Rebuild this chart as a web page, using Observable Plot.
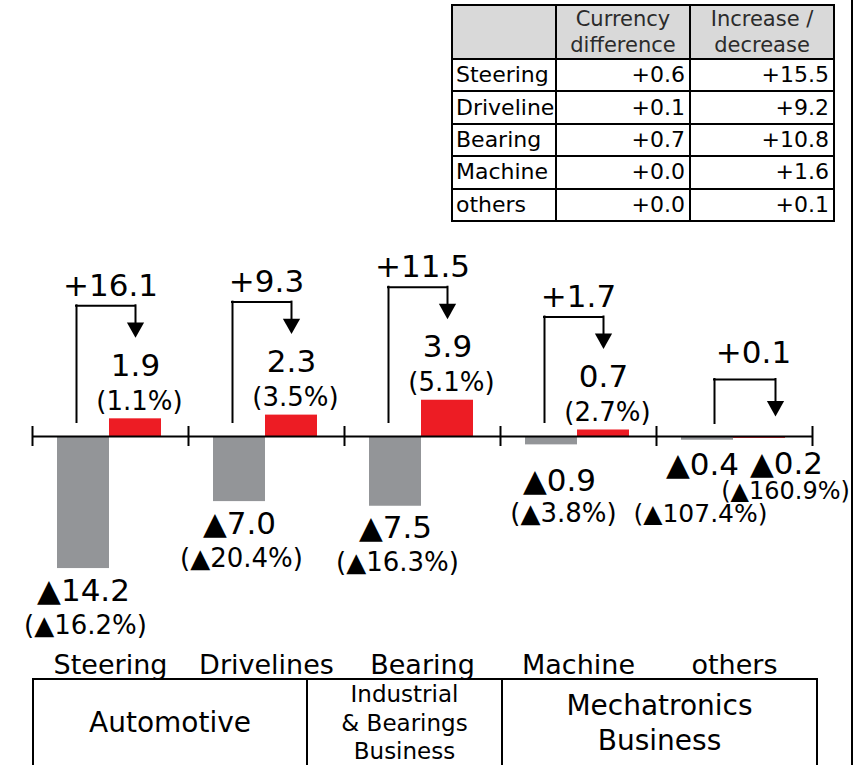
<!DOCTYPE html>
<html>
<head>
<meta charset="utf-8">
<script src="https://cdn.jsdelivr.net/npm/d3@7"></script>
<script src="https://cdn.jsdelivr.net/npm/@observablehq/plot@0.6"></script>
<style>
  html, body { margin: 0; padding: 0; background: #fff; }
  #wrap { position: relative; width: 860px; height: 765px; overflow: hidden; font-family: "DejaVu Sans", Verdana, sans-serif; color: #000; }
  #chart { position: absolute; left: 0; top: 0; }
  #tbl { position: absolute; left: 451px; top: 4px; border-collapse: collapse; table-layout: fixed; width: 382px; font-size: 22px; z-index: 2; background: #fff; }
  #tbl th, #tbl td { border: 2px solid #000; padding: 0; overflow: hidden; white-space: nowrap; }
  #tbl th { background: #d9d9d9; font-weight: normal; font-size: 21px; color: #2b2b2b; line-height: 26px; text-align: center; }
  #tbl thead tr { height: 52px; }
  #tbl tbody tr { height: 32.4px; }
  #tbl td { line-height: 24px; }
  #tbl td.name { text-align: left; padding-left: 3px; }
  #tbl td.num { text-align: right; padding-right: 4px; }
  #seg { position: absolute; left: 32px; top: 678px; border-collapse: collapse; table-layout: fixed; width: 786px; height: 86px; }
  #seg td { border: 2px solid #000; padding: 0; text-align: center; vertical-align: middle; }
  #border { position: absolute; left: 851px; top: 0; width: 2px; height: 765px; background: #000; }
</style>
</head>
<body>
<div id="wrap">
  <div id="chart"></div>
  <table id="tbl"></table>
  <table id="seg"></table>
  <div id="border"></div>
</div>
<script>
// ---- data ----
const categories = ["Steering", "Drivelines", "Bearing", "Machine", "others"];
const prevValues = [-14.2, -7.0, -7.5, -0.9, -0.4];
const prevPct = [-16.2, -20.4, -16.3, -3.8, -107.4];
const currValues = [1.9, 2.3, 3.9, 0.7, -0.2];
const currPct = [1.1, 3.5, 5.1, 2.7, -160.9];
const changeValues = [16.1, 9.3, 11.5, 1.7, 0.1];

const tableHeaders = [["Currency", "difference"], ["Increase /", "decrease"]];
const tableRows = ["Steering", "Drivelines", "Bearing", "Machine", "others"];
const currencyDiff = [0.6, 0.1, 0.7, 0.0, 0.0];
const increaseDecrease = [15.5, 9.2, 10.8, 1.6, 0.1];

const segmentNames = [["Automotive"], ["Industrial", "& Bearings", "Business"], ["Mechatronics", "Business"]];

// ---- helpers ----
const fmt = v => (v < 0 ? "\u25B2" : "") + Math.abs(v).toFixed(1);
const fmtPct = v => "(" + fmt(v) + "%)";
const fmtPlus = v => "+" + v.toFixed(1);

const data = categories.map((c, i) => ({
  cat: c, prev: prevValues[i], prevPct: prevPct[i],
  curr: currValues[i], currPct: currPct[i], change: changeValues[i]
}));

const up = data.filter(d => d.curr > 0);
const bigDown = data.filter(d => d.prev < -5);
const smallDown = data.filter(d => d.prev >= -5 && d.curr > 0);
const bothDown = data.filter(d => d.curr <= 0);

// downward filled arrow head with its tip at the anchor point
const arrowHead = {
  draw(ctx, size) {
    const s = Math.sqrt(size);
    ctx.moveTo(-0.76 * s, -1.36 * s);
    ctx.lineTo(0.76 * s, -1.36 * s);
    ctx.lineTo(0, 0);
    ctx.closePath();
  }
};

// ---- scale geometry ----
const W = 860, H = 679, mB = 6, zeroPx = 436, pxPerUnit = 9.3;
const yMin = -(H - mB - zeroPx) / pxPerUnit;
const yMax = zeroPx / pxPerUnit;
const F = "DejaVu Sans";
const lineStyle = {stroke: "#000", strokeWidth: 2, strokeLinecap: "square"};

function bracket(rows, yAcc, o) {
  return [
    Plot.ruleX(rows, {x: "cat", y1: yAcc, y2: 0, dx: o.left, insetTop: -o.top, insetBottom: o.base, ...lineStyle}),
    Plot.ruleY(rows, {y: yAcc, x1: "cat", x2: "cat", dy: -o.top, insetLeft: 78 + o.left, insetRight: 78 - o.right, ...lineStyle}),
    Plot.ruleX(rows, {x: "cat", y1: yAcc, y2: yAcc, dx: o.right, insetTop: -o.top, insetBottom: o.tip + 11, ...lineStyle}),
    Plot.dot(rows, {x: "cat", y: yAcc, dx: o.right, dy: -o.tip, symbol: arrowHead, r: 6.4, fill: "#000", stroke: "none"}),
    Plot.text(rows, {x: "cat", y: yAcc, dx: o.labelDx, dy: -o.top - 10 - o.labelGap, text: d => fmtPlus(d.change), lineAnchor: "bottom", fontSize: 31, fill: "#000"})
  ];
}

const plot = Plot.plot({
  width: W, height: H,
  marginTop: 0, marginBottom: mB, marginLeft: 32, marginRight: 48,
  x: {type: "band", domain: categories, padding: 0, axis: null, label: null},
  y: {domain: [yMin, yMax], axis: null},
  style: {fontFamily: F, background: "white", color: "#000", overflow: "visible"},
  marks: [
    Plot.barY(data, {x: "cat", y1: 0, y2: "prev", fill: "#939598", insetLeft: 25, insetRight: 79}),
    Plot.barY(data, {x: "cat", y1: 0, y2: "curr", fill: "#ed1c24", insetLeft: 77, insetRight: 27}),
    Plot.ruleY([0], {stroke: "#000", strokeWidth: 2}),
    Plot.ruleX(categories, {x: d => d, y1: 0, y2: 0, dx: -78, insetTop: -10, insetBottom: -10, stroke: "#000", strokeWidth: 2}),
    Plot.ruleX(categories.slice(-1), {x: d => d, y1: 0, y2: 0, dx: 78, insetTop: -10, insetBottom: -10, stroke: "#000", strokeWidth: 2}),

    // red (current) labels above
    Plot.text(up, {x: "cat", y: "curr", dx: 25, dy: -43, text: d => fmt(d.curr), lineAnchor: "bottom", fontSize: 31, fill: "#000"}),
    Plot.text(up, {x: "cat", y: "curr", dx: 29, dy: -9, text: d => fmtPct(d.currPct), lineAnchor: "bottom", fontSize: 26, fill: "#000"}),

    // grey (previous) labels below, large bars
    Plot.text(bigDown, {x: "cat", y: "prev", dx: -27, dy: 32, text: d => fmt(d.prev), lineAnchor: "bottom", fontSize: 31, fill: "#000"}),
    Plot.text(bigDown, {x: "cat", y: "prev", dx: -25, dy: 65, text: d => fmtPct(d.prevPct), lineAnchor: "bottom", fontSize: 26, fill: "#000"}),
    // small grey bar with positive red
    Plot.text(smallDown, {x: "cat", y: "prev", dx: -19, dy: 46, text: d => fmt(d.prev), lineAnchor: "bottom", fontSize: 31, fill: "#000"}),
    Plot.text(smallDown, {x: "cat", y: "prev", dx: -15, dy: 77, text: d => fmtPct(d.prevPct), lineAnchor: "bottom", fontSize: 26, fill: "#000"}),
    // both negative
    Plot.text(bothDown, {x: "cat", y: "prev", dx: -32, dy: 35, text: d => fmt(d.prev), lineAnchor: "bottom", fontSize: 31, fill: "#000"}),
    Plot.text(bothDown, {x: "cat", y: "prev", dx: -34, dy: 82, text: d => fmtPct(d.prevPct), lineAnchor: "bottom", fontSize: 25, fill: "#000"}),
    Plot.text(bothDown, {x: "cat", y: "curr", dx: 52, dy: 36, text: d => fmt(d.curr), lineAnchor: "bottom", fontSize: 31, fill: "#000"}),
    Plot.text(bothDown, {x: "cat", y: "curr", dx: 51, dy: 61, text: d => fmtPct(d.currPct), lineAnchor: "bottom", fontSize: 24, fill: "#000"}),

    // change brackets
    ...bracket(up, "curr", {left: -34, right: 25, top: 113, tip: 81, base: 14, labelDx: 0, labelGap: 0}),
    ...bracket(bothDown, 0, {left: -20, right: 41, top: 57, tip: 20, base: 13, labelDx: 19, labelGap: 7}),

    // category labels
    Plot.text(categories, {x: d => d, frameAnchor: "bottom", lineAnchor: "bottom", fontSize: 27, fill: "#000"})
  ]
});
document.getElementById("chart").appendChild(plot);

// ---- top table ----
const tbl = document.getElementById("tbl");
const colW = [104, 134, 144];
let html = "<colgroup>" + colW.map(w => `<col style="width:${w}px">`).join("") + "</colgroup>";
html += "<thead><tr><th></th>" + tableHeaders.map(h => `<th>${h.join("<br>")}</th>`).join("") + "</tr></thead><tbody>";
tableRows.forEach((r, i) => {
  html += `<tr><td class="name">${r}</td><td class="num">${fmtPlus(currencyDiff[i])}</td><td class="num">${fmtPlus(increaseDecrease[i])}</td></tr>`;
});
html += "</tbody>";
tbl.innerHTML = html;

// ---- segment boxes ----
const seg = document.getElementById("seg");
const segW = [274, 195, 315];
const segFont = [[28, 34], [23, 28.5], [28, 35]];
seg.innerHTML = "<colgroup>" + segW.map(w => `<col style="width:${w}px">`).join("") + "</colgroup><tr>" +
  segmentNames.map((lines, i) => `<td style="font-size:${segFont[i][0]}px;line-height:${segFont[i][1]}px">${lines.join("<br>")}</td>`).join("") +
  "</tr>";
</script>
</body>
</html>
